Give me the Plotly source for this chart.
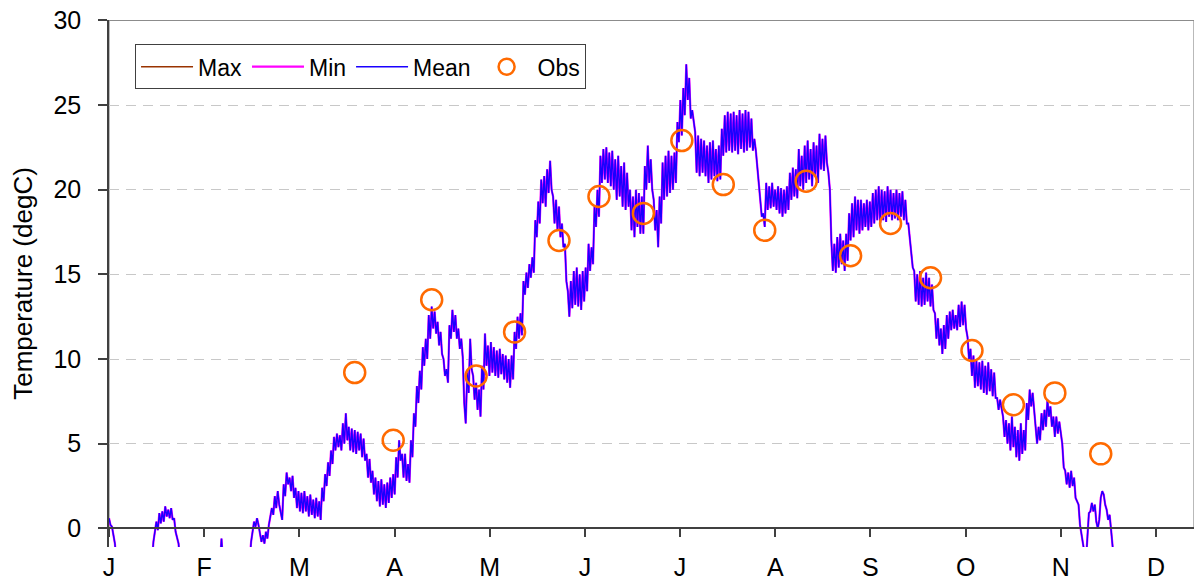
import plotly.graph_objects as go

# mean temperature (degC), two readings per day (day/night); winter values lie below the axis
mean_vals = [
    0.6, 0.2, 0.1, -0.4, -0.9, -2, -2, -2, -2, -2, -2, -2, -2, -2, -2, -2, -2, -2, -2, -2,
    -2, -2, -2, -2, -2, -2, -2, -2, -2, -2, -0.8, -0.2, 0.4, -0.1, 0.9, 0.3, 1.0, 0.4, 1.3, 0.7,
    1.1, 0.6, 1.2, 0.5, 0.6, -0.2, -0.5, -0.9, -2, -2, -2, -2, -2, -2, -2, -2, -2, -2, -2, -2,
    -2, -2, -2, -2, -2, -2, -2, -2, -2, -2, -2, -2, -2, -2, -2, -2, -0.6, -2, -2, -2,
    -2, -2, -2, -2, -2, -2, -2, -2, -2, -2, -2, -2, -2, -2, -2, -2, -0.8, -0.3, 0.4, 0.1,
    0.6, 0.2, -0.3, -0.8, -0.4, -0.9, -0.2, -0.6, 0.2, 0.6, 1.2, 0.8, 1.9, 1.2, 2.2, 1.4, 0.9, 0.5, 2.6, 1.9,
    3.3, 2.6, 3.0, 2.2, 3.1, 1.8, 2.4, 1.2, 2.2, 1.0, 2.1, 0.9, 2.2, 1.0, 1.9, 0.7, 2.0, 0.8, 1.7, 0.6,
    1.8, 0.7, 1.6, 0.5, 2.4, 1.6, 3.2, 2.5, 3.9, 3.1, 4.6, 3.8, 5.4, 4.6, 5.6, 4.8, 5.5, 4.6, 6.2, 5.0,
    6.8, 5.2, 6.0, 4.6, 5.9, 4.5, 5.8, 4.4, 5.7, 4.6, 5.6, 4.2, 5.3, 4.0, 4.4, 3.0, 4.1, 2.7, 3.4, 2.0,
    3.0, 1.6, 2.8, 1.3, 2.9, 1.4, 2.6, 1.2, 2.7, 1.5, 3.0, 1.8, 3.2, 2.0, 4.2, 3.0, 5.2, 4.0, 4.4, 3.0,
    4.4, 2.8, 3.8, 2.7, 5.2, 4.2, 6.8, 6.0, 8.4, 7.4, 9.3, 8.2, 10.7, 9.6, 11.2, 10.0, 12.6, 11.2, 13.1, 11.8,
    12.8, 11.5, 12.2, 10.8, 11.6, 10.3, 10.0, 9.0, 9.4, 8.6, 12.0, 11.2, 12.9, 11.6, 12.6, 11.2, 11.8, 10.6, 11.2, 10.1,
    7.4, 6.2, 9.2, 8.0, 11.2, 9.4, 9.0, 7.6, 8.6, 7.0, 8.2, 6.6, 9.6, 8.2, 11.5, 9.6, 10.8, 9.0, 11.0, 9.2,
    10.7, 9.0, 10.5, 8.9, 10.6, 9.1, 10.3, 8.8, 10.2, 8.6, 10.0, 8.3, 10.2, 8.8, 11.6, 10.6, 12.5, 11.2, 12.7, 11.4,
    14.6, 13.8, 15.1, 14.2, 15.6, 14.8, 16.0, 15.1, 18.2, 17.2, 19.3, 18.0, 20.6, 19.2, 20.8, 19.0, 21.2, 19.8, 21.7, 20.0,
    19.6, 18.0, 19.4, 17.6, 19.0, 17.2, 18.0, 16.6, 16.8, 14.6, 14.0, 12.5, 14.6, 13.0, 15.2, 13.2, 15.4, 13.1, 15.0, 12.9,
    15.2, 13.4, 15.4, 14.0, 16.8, 15.2, 16.6, 15.6, 19.0, 17.8, 20.0, 18.4, 22.0, 20.4, 22.4, 20.6, 22.5, 20.4, 22.2, 20.2,
    22.3, 20.0, 21.8, 19.4, 22.0, 19.6, 21.4, 19.0, 21.6, 18.8, 21.0, 19.0, 20.0, 17.6, 19.6, 17.2, 20.0, 17.8, 19.8, 17.4,
    19.6, 17.4, 21.4, 20.0, 22.6, 20.4, 21.8, 20.0, 19.4, 17.6, 18.8, 16.6, 19.6, 18.0, 21.6, 19.4, 22.0, 19.6, 22.3, 19.8,
    22.0, 20.0, 22.2, 20.4, 24.0, 22.8, 25.3, 23.2, 26.0, 24.4, 27.4, 25.3, 26.6, 24.2, 24.7, 24.0, 23.4, 21.0, 23.2, 20.8,
    23.0, 21.0, 22.9, 20.8, 22.6, 20.4, 22.8, 20.6, 22.9, 20.8, 22.4, 20.5, 22.6, 20.6, 23.6, 22.0, 24.4, 22.2, 24.6, 22.3,
    24.5, 22.2, 24.6, 22.3, 24.4, 22.1, 24.7, 22.4, 24.5, 22.2, 24.7, 22.3, 24.6, 22.5, 24.2, 22.3, 23.0, 22.3, 21.3, 20.0,
    19.2, 18.4, 18.6, 17.8, 20.4, 18.8, 20.2, 18.9, 20.4, 19.0, 20.0, 18.8, 20.2, 18.6, 20.1, 18.4, 20.0, 18.6, 20.2, 18.8,
    21.0, 19.4, 21.3, 19.6, 21.2, 19.5, 22.4, 20.2, 22.0, 20.0, 22.6, 20.4, 22.9, 20.6, 22.4, 20.2, 22.8, 20.8, 22.6, 20.4,
    23.3, 21.2, 23.0, 21.1, 23.2, 21.6, 21.0, 20.0, 17.0, 15.2, 16.8, 15.1, 17.2, 15.4, 17.4, 15.6, 17.0, 15.2, 17.4, 15.8,
    18.6, 17.0, 19.2, 17.2, 19.6, 17.6, 19.4, 17.4, 19.4, 17.6, 19.2, 17.8, 19.4, 17.6, 19.3, 17.8, 19.8, 18.0, 20.0, 18.2,
    20.2, 18.0, 20.0, 18.2, 19.9, 18.1, 20.2, 18.4, 20.0, 18.2, 19.8, 18.3, 20.0, 18.2, 19.8, 18.4, 19.9, 18.2, 19.4, 18.0,
    18.0, 17.2, 16.4, 15.4, 15.2, 13.4, 15.0, 13.2, 15.2, 13.1, 14.8, 13.2, 15.1, 13.4, 14.8, 13.1, 14.4, 12.9, 12.7, 11.2,
    12.4, 10.8, 11.8, 10.3, 12.0, 10.6, 12.6, 11.2, 12.8, 11.7, 12.9, 11.8, 12.6, 11.7, 13.2, 11.9, 13.4, 12.0, 13.2, 11.8,
    11.3, 10.0, 10.6, 9.0, 10.2, 8.3, 9.9, 8.4, 9.8, 8.2, 9.9, 8.0, 9.6, 7.9, 9.8, 8.1, 9.4, 7.8, 9.2, 7.7,
    7.7, 7.0, 7.6, 7.0, 6.6, 5.4, 6.4, 5.0, 6.2, 4.6, 6.6, 4.8, 6.0, 4.2, 5.8, 4.0, 6.2, 4.4, 5.8, 4.6,
    7.4, 6.4, 8.2, 7.2, 8.0, 7.0, 6.2, 5.0, 6.0, 5.2, 6.8, 5.8, 7.0, 6.0, 7.6, 6.6, 7.2, 6.0, 6.6, 5.4,
    6.6, 5.6, 6.3, 5.7, 5.0, 3.6, 3.4, 2.6, 3.3, 2.4, 3.4, 2.5, 3.0, 1.8, 1.6, 1.4, 0.2, -0.3, -0.8, -1.5,
    -2, -0.5, 0.9, 1.0, 1.5, 1.0, 1.4, 0.4, 0.0, 0.5, 1.8, 2.2, 2.0, 1.4, 1.1, 0.5, 0.8, -0.1, -1.0, -2,
    -2, -2, -2, -2, -2, -2, -2, -2, -2, -2, -2, -2, -2, -2, -2, -2, -2, -2, -2, -2,
    -2, -2, -2, -2, -2, -2, -2, -2, -2, -2, -2, -2, -2, -2, -2, -2, -2, -2, -2, -2,
    -2, -2, -2, -2, -2, -2, -2, -2, -2, -2, -2, -2,
]
# max only shows where it rests on zero (ice period); elsewhere it is hidden under the mean
max_vals = [0] * 108 + [None] * 570 + [0] * 54

obs_days = [83, 96, 109, 124, 137, 152, 165.5, 180.5, 193.5, 207.5,
            221.5, 235.5, 250.5, 264, 277.5, 291.5, 305.5, 319.5, 335]
obs_vals = [9.2, 5.2, 13.5, 9.0, 11.6, 17.0, 19.6, 18.6, 22.9, 20.3,
            17.6, 20.5, 16.1, 18.0, 14.8, 10.5, 7.3, 8.0, 4.4]

month_labels = ["J", "F", "M", "A", "M", "J", "J", "A", "S", "O", "N", "D"]

days = [i * 0.5 for i in range(len(mean_vals))]
x_end = 366.5
tick_step = 32.15
font = "Liberation Sans, Arial, sans-serif"

fig = go.Figure()
fig.add_trace(go.Scatter(x=days, y=max_vals, mode="lines", name="Max",
                         line=dict(color="#993300", width=1.5)))
fig.add_trace(go.Scatter(x=days, y=mean_vals, mode="lines", name="Min",
                         line=dict(color="#ff00ff", width=2.2)))
fig.add_trace(go.Scatter(x=days, y=mean_vals, mode="lines", name="Mean",
                         line=dict(color="#1a00ff", width=1.4)))
fig.add_trace(go.Scatter(x=obs_days, y=obs_vals, mode="markers", name="Obs",
                         marker=dict(symbol="circle-open", size=21, color="#ff6a00",
                                     line=dict(width=2.5, color="#ff6a00"))))

# plot-area frame (Excel style), visible on top and right
fig.add_shape(type="rect", xref="x", yref="y", x0=0, x1=x_end, y0=0, y1=30,
              line=dict(color="#8c8c8c", width=1.2), layer="below")

# page body keeps an 8px margin, so the figure is 8px smaller each way
fig.update_layout(
    width=1194, height=577,
    margin=dict(l=101, r=8, t=12, b=38, autoexpand=False),
    plot_bgcolor="white", paper_bgcolor="white",
    font=dict(family=font, size=24, color="black"),
    showlegend=True,
    legend=dict(orientation="h", x=0.024, y=0.954, xanchor="left", yanchor="top",
                bgcolor="white", bordercolor="#404040", borderwidth=1,
                font=dict(size=23), itemwidth=52),
)
fig.update_xaxes(
    range=[0, x_end], anchor="free", position=1.1 / 31.1, automargin=False,
    tickmode="array", tickvals=[i * tick_step for i in range(12)], ticktext=month_labels,
    showline=True, linecolor="#404040", linewidth=1.5,
    ticks="outside", ticklen=8, tickcolor="#404040", tickwidth=1.5,
    showgrid=False, zeroline=False, tickfont=dict(size=25), ticklabelstandoff=9,
    ticklabeloverflow="allow",
)
fig.update_yaxes(
    range=[-1.1, 30.02], tickvals=[0, 5, 10, 15, 20, 25, 30], automargin=False,
    showline=True, linecolor="#404040", linewidth=1.5,
    ticks="outside", ticklen=9, tickcolor="#404040", tickwidth=1.5,
    showgrid=True, gridcolor="#c8c8c8", griddash="10px,7px", gridwidth=1,
    zeroline=False, ticklabelstandoff=12, tickfont=dict(size=25),
    ticklabeloverflow="allow",
    title=dict(text="Temperature (degC)", font=dict(size=26), standoff=13),
)

fig.write_html("out.html")
